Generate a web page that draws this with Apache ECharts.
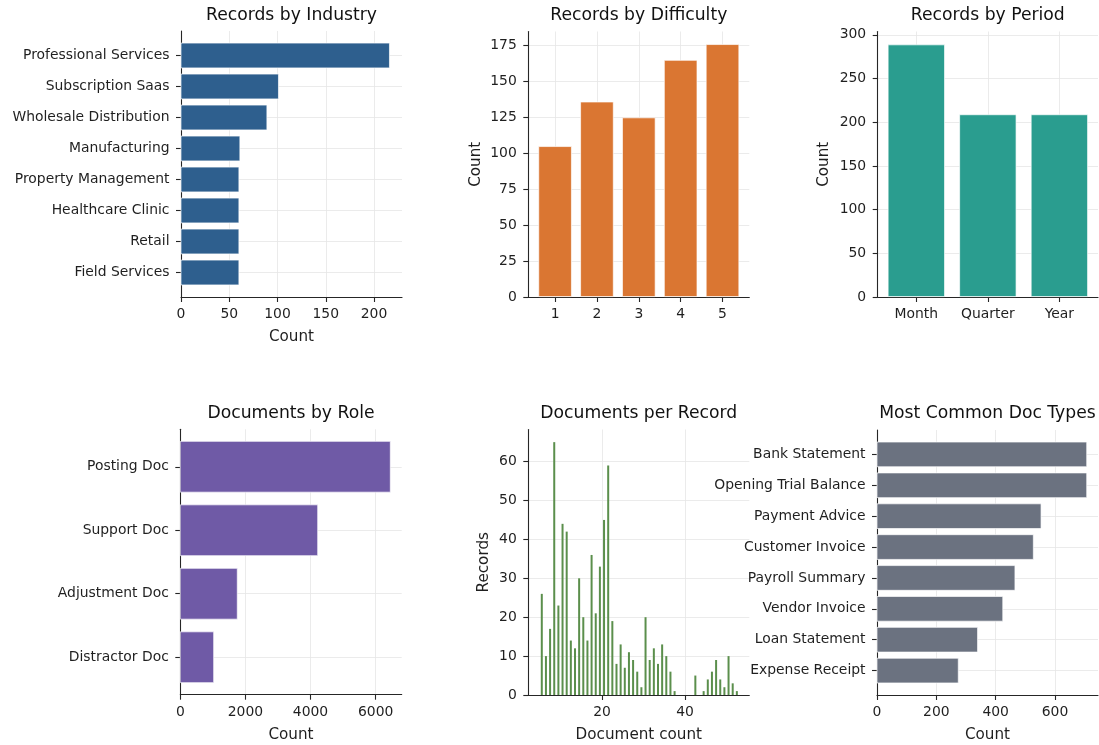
<!DOCTYPE html>
<html><head><meta charset="utf-8">
<script src="https://cdn.jsdelivr.net/npm/echarts@6/dist/echarts.min.js"></script>
<style>html,body{margin:0;padding:0;background:#fff}#c{width:1099px;height:745px}</style>
</head><body><div id="c"></div>
<script>
// ---------- data ----------
const industries = ['Professional Services','Subscription Saas','Wholesale Distribution','Manufacturing','Property Management','Healthcare Clinic','Retail','Field Services'];
const industryCounts = [216, 101, 89, 61, 60, 60, 60, 60];

const difficultyLevels = [1, 2, 3, 4, 5];
const difficultyCounts = [105, 136, 125, 165, 176];

const periods = ['Month', 'Quarter', 'Year'];
const periodCounts = [289, 209, 209];

const docRoles = ['Posting Doc', 'Support Doc', 'Adjustment Doc', 'Distractor Doc'];
const docRoleCounts = [6450, 4220, 1750, 1025];

const docCountBins = [5,6,7,8,9,10,11,12,13,14,15,16,17,18,19,20,21,22,23,24,25,26,27,28,29,30,31,32,33,34,35,36,37,38,39,40,41,42,43,44,45,46,47,48,49,50,51,52];
const recordsPerBin = [26,10,17,65,23,44,42,14,12,30,20,14,36,21,33,45,59,19,8,13,7,11,9,6,2,20,9,12,8,13,10,6,1,0,0,0,0,5,0,1,4,6,9,4,2,10,3,1];

const docTypes = ['Bank Statement','Opening Trial Balance','Payment Advice','Customer Invoice','Payroll Summary','Vendor Invoice','Loan Statement','Expense Receipt'];
const docTypeCounts = [707, 707, 553, 527, 465, 424, 339, 274];

// tick labels
const industryTicks = [0, 50, 100, 150, 200];
const difficultyTicksY = [0, 25, 50, 75, 100, 125, 150, 175];
const periodTicksY = [0, 50, 100, 150, 200, 250, 300];
const roleTicks = [0, 2000, 4000, 6000];
const histTicksX = [20, 40];
const histTicksY = [0, 10, 20, 30, 40, 50, 60];
const docTypeTicks = [0, 200, 400, 600];

// ---------- style ----------
const FONT = 'DejaVu Sans';
const TXT = '#1f1f1f';
const TICK_FS = 13.9, NAME_FS = 15.2, TITLE_FS = 17.2;
const EDGE = 'rgba(255,255,255,0.85)';

const grids = [
  {left: 181,   top: 31,    width: 221,   height: 266},
  {left: 528.3, top: 31.5,  width: 221,   height: 265.5},
  {left: 877.7, top: 31.5,  width: 220.3, height: 265.5},
  {left: 180.3, top: 429.3, width: 221.4, height: 265.4},
  {left: 528.3, top: 429.5, width: 221,   height: 265.5},
  {left: 877,   top: 430,   width: 221,   height: 265}
];

function axis(dim, gi, o) {
  const a = {
    type: 'value', gridIndex: gi, min: o.min, max: o.max, inverse: !!o.inverse,
    position: dim === 'x' ? 'bottom' : 'left',
    axisLine: {show: true, onZero: false, lineStyle: {color: '#262626', width: 1.1}},
    axisTick: {show: true, inside: false, length: 5, customValues: o.ticks, lineStyle: {color: '#262626', width: 1.1}},
    axisLabel: {show: true, customValues: o.ticks, fontFamily: FONT, fontSize: TICK_FS, color: TXT,
                margin: dim === 'x' ? 10.5 : 11.5, formatter: o.fmt || (v => String(v))},
    splitLine: {show: true, lineStyle: {color: '#e6e6e6', width: 0.8}}
  };
  if (o.name) {
    a.name = o.name; a.nameLocation = 'middle'; a.nameGap = o.gap;
    a.nameTextStyle = {fontFamily: FONT, fontSize: NAME_FS, color: TXT};
  }
  return a;
}

function hbar(gi, counts, color) {
  return {
    type: 'custom', xAxisIndex: gi, yAxisIndex: gi,
    data: counts.map((c, i) => [c, i]),
    encode: {x: 0, y: 1},
    renderItem: function (params, api) {
      const v = api.value(0), i = api.value(1);
      const a = api.coord([0, i]), b = api.coord([v, i]);
      const h = api.size([0, 0.8], [v, i])[1];
      return {type: 'rect', shape: {x: a[0], y: a[1] - h / 2, width: b[0] - a[0], height: h},
              style: {fill: color, stroke: EDGE, lineWidth: 0.8}};
    }
  };
}

function vbar(gi, xs, counts, color, width, border) {
  return {
    type: 'bar', xAxisIndex: gi, yAxisIndex: gi,
    data: xs.map((x, i) => [x, counts[i]]),
    barWidth: width,
    itemStyle: border ? {color: color, borderColor: EDGE, borderWidth: 0.8} : {color: color}
  };
}

const titles = [
  ['Records by Industry', 291.5, 15.5],
  ['Records by Difficulty', 638.8, 15.5],
  ['Records by Period', 987.8, 15.5],
  ['Documents by Role', 291, 414],
  ['Documents per Record', 638.8, 414],
  ['Most Common Doc Types', 987.5, 414]
];

const xAxes = [
  axis('x', 0, {min: 0, max: 229, ticks: industryTicks, name: 'Count', gap: 33}),
  axis('x', 1, {min: 0.36, max: 5.64, ticks: difficultyLevels}),
  axis('x', 2, {min: -0.54, max: 2.54, ticks: [0, 1, 2], fmt: v => periods[v]}),
  axis('x', 3, {min: 0, max: 6800, ticks: roleTicks, name: 'Count', gap: 33}),
  axis('x', 4, {min: 2.25, max: 55.5, ticks: histTicksX, name: 'Document count', gap: 33}),
  axis('x', 5, {min: 0, max: 745, ticks: docTypeTicks, name: 'Count', gap: 33})
];
const yAxes = [
  axis('y', 0, {min: -0.79, max: 7.79, inverse: true, ticks: [0,1,2,3,4,5,6,7], fmt: v => industries[v]}),
  axis('y', 1, {min: 0, max: 184.8, ticks: difficultyTicksY, name: 'Count', gap: 45}),
  axis('y', 2, {min: 0, max: 303.8, ticks: periodTicksY, name: 'Count', gap: 46}),
  axis('y', 3, {min: -0.59, max: 3.59, inverse: true, ticks: [0,1,2,3], fmt: v => docRoles[v]}),
  axis('y', 4, {min: 0, max: 68.25, ticks: histTicksY, name: 'Records', gap: 37}),
  axis('y', 5, {min: -0.79, max: 7.79, inverse: true, ticks: [0,1,2,3,4,5,6,7], fmt: v => docTypes[v]})
];

const option = {
  animation: false,
  backgroundColor: '#fff',
  textStyle: {fontFamily: FONT},
  grid: grids,
  xAxis: xAxes,
  yAxis: yAxes,
  graphic: titles.map(t => ({
    type: 'text', x: t[1], y: t[2], silent: true,
    style: {text: t[0], fontFamily: FONT, fontSize: TITLE_FS, fill: '#111', textAlign: 'center', textVerticalAlign: 'middle'}
  })),
  series: [
    hbar(0, industryCounts, '#2e5f8e'),
    vbar(1, difficultyLevels, difficultyCounts, '#da7632', '80%', true),
    vbar(2, periods.map((p, i) => i), periodCounts, '#2a9d8f', '80%', true),
    hbar(3, docRoleCounts, '#6f5aa6'),
    vbar(4, docCountBins.map(b => b + 0.5), recordsPerBin, '#5b8f4c', 2, false),
    hbar(5, docTypeCounts, '#6b7280')
  ]
};

const chart = echarts.init(document.getElementById('c'), null, {renderer: 'canvas'});
chart.setOption(option);
</script>
</body></html>
